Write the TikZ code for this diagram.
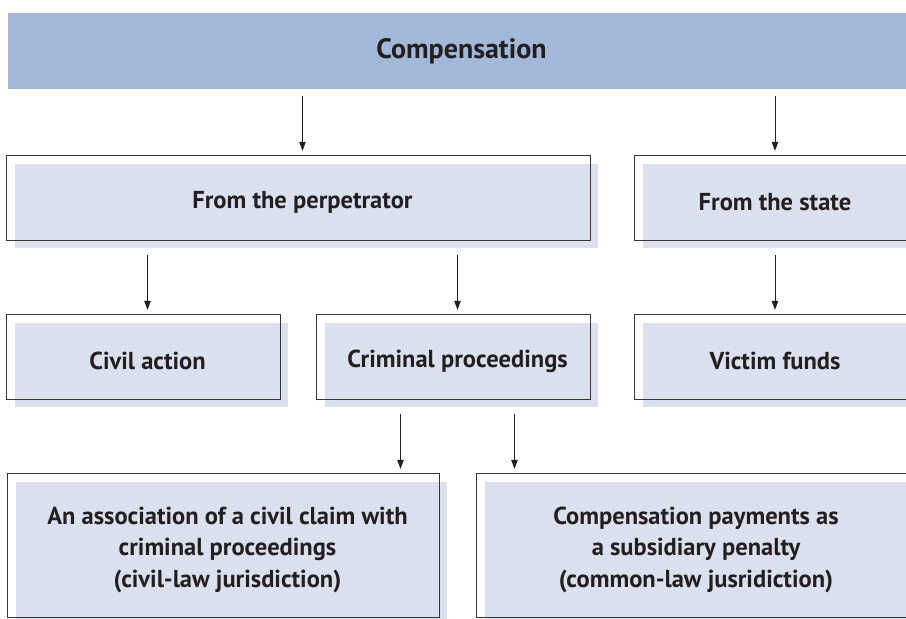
\documentclass[tikz,border=0pt]{standalone}
\usepackage{fontspec}
\setmainfont{PT Sans}
\usetikzlibrary{arrows.meta,backgrounds}
\definecolor{headcol}{RGB}{163,184,216}
\definecolor{shadecol}{RGB}{218,224,238}
\definecolor{inkcol}{RGB}{35,31,32}
\tikzset{
  txt/.style={inner sep=0pt, align=center, text=inkcol,
    font=\bfseries\fontsize{24.5}{31.5}\selectfont},
  headtxt/.style={txt, font=\bfseries\fontsize{28}{32}\selectfont},
  outline/.style={draw=inkcol!90, line width=0.9pt},
  arr/.style={draw=inkcol, line width=0.8pt, -{Triangle[length=9pt,width=6.5pt]},
    shorten <=7pt, shorten >=5pt}
}
\begin{document}
\begin{tikzpicture}[x=1pt,y=-1pt]
\useasboundingbox (0,0) rectangle (906,619);
\clip (0,0) rectangle (906,619);
% nodes (size = outline + shadow union)
\node[headtxt, minimum width=907pt, minimum height=76pt] (head) at (461.5,51) {Compensation};
\node[txt, minimum width=591pt, minimum height=92pt] (perp) at (302.5,202) {From the perpetrator};
\node[txt, minimum width=280pt, minimum height=92pt] (state) at (775,202) {From the state};
\node[txt, minimum width=281pt, minimum height=92pt] (civil) at (147.5,361) {Civil action};
\node[txt, minimum width=281pt, minimum height=92pt] (crim) at (457.5,361) {Criminal proceedings};
\node[txt, minimum width=280pt, minimum height=92pt] (victim) at (775,361) {Victim funds};
\node[txt, minimum width=439pt, minimum height=151pt] (assoc) at (227.5,549.5)
  {An association of a civil claim with\\criminal proceedings\\(civil-law jurisdiction)};
\node[txt, minimum width=438pt, minimum height=151pt] (comp) at (696,549.5)
  {Compensation payments as\\a subsidiary penalty\\(common-law jusridiction)};
\begin{scope}[on background layer]
  \fill[headcol] (head.north west) rectangle (head.south east);
  \foreach \n/\e in {perp/0,state/20,civil/0,crim/0,victim/20,assoc/0,comp/20}{
    \fill[shadecol] ([shift={(8pt,-8pt)}]\n.north west) rectangle ([xshift=\e pt]\n.south east);
    \draw[outline] (\n.north west) rectangle ([shift={(\e pt-8pt,8pt)}]\n.south east);
  }
\end{scope}
% connectors
\draw[arr] (head.south -| perp.north) -- (perp.north);
\draw[arr] (head.south -| state.north) -- (state.north);
\draw[arr] (perp.south -| civil.north) -- (civil.north);
\draw[arr] (perp.south -| crim.north) -- (crim.north);
\draw[arr] (state.south) -- (victim.north);
\draw[arr] ([xshift=-57pt]crim.south) -- ([xshift=-57pt]crim.south |- assoc.north);
\draw[arr] ([xshift=57pt]crim.south) -- ([xshift=57pt]crim.south |- comp.north);
\end{tikzpicture}
\end{document}
